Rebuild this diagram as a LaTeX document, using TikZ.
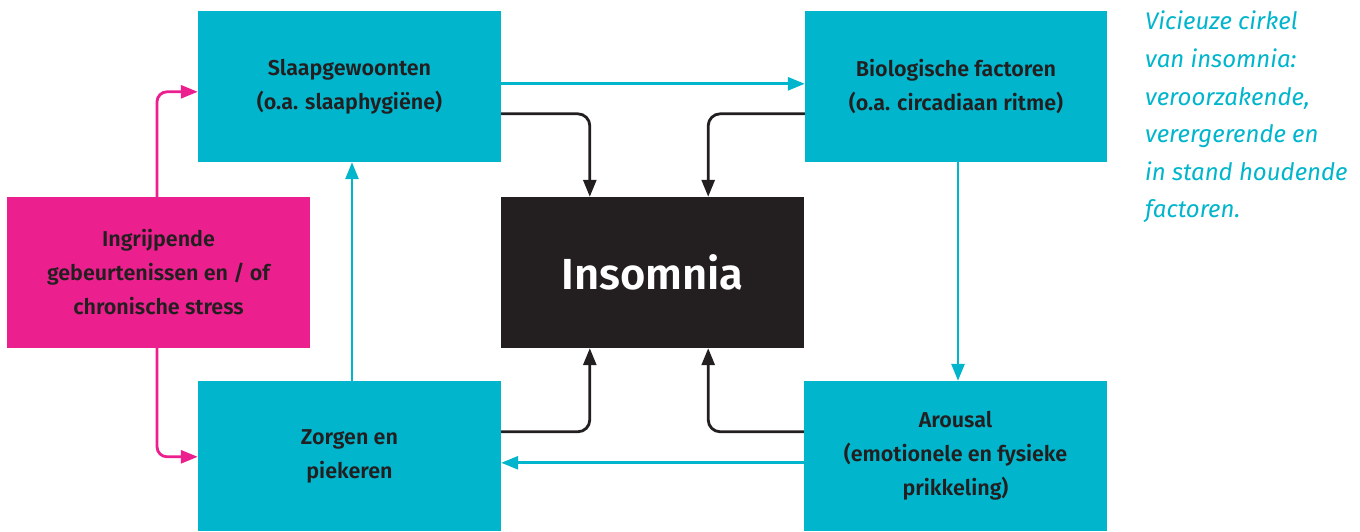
\documentclass[tikz,border=0pt]{standalone}
\usepackage{fontspec}
\setmainfont{Fira Sans}
\newfontfamily\semib{Fira Sans SemiBold}
\usetikzlibrary{arrows.meta,calc}
\definecolor{cyanbox}{HTML}{00B5CC}
\definecolor{pinkbox}{HTML}{EC1F8F}
\definecolor{darkbox}{HTML}{231F20}
\tikzset{
  box/.style={rectangle, inner sep=0pt, minimum width=303pt, minimum height=151pt, align=center,
    font=\semib\fontsize{21.5}{34}\selectfont, text=darkbox},
  cybox/.style={box, fill=cyanbox},
  pkbox/.style={box, fill=pinkbox},
  blkbox/.style={box, fill=darkbox, text=white, font=\semib\fontsize{43.5}{50}\selectfont},
  con/.style={line width=2.8pt, -{Triangle[length=17pt,width=13pt]}},
  cycon/.style={con, draw=cyanbox},
  pkcon/.style={con, draw=pinkbox, rounded corners=10pt},
  bkcon/.style={con, draw=darkbox, rounded corners=12pt},
  note/.style={align=left, inner sep=0pt, text=cyanbox, font=\itshape\fontsize{24}{37.6}\selectfont}
}
\begin{document}
\begin{tikzpicture}[x=1pt,y=-1pt]
\useasboundingbox (0,0) rectangle (1360,531);
\node[cybox] (slaap) at (349.5,86.5) {Slaapgewoonten\\(o.a. slaaphygiëne)};
\node[cybox, minimum width=302pt] (bio) at (956,86.5) {Biologische factoren\\(o.a. circadiaan ritme)};
\node[blkbox] (ins) at (652.5,272.5) {Insomnia};
\node[pkbox] (pink) at (158.5,272.5) {Ingrijpende\\gebeurtenissen en / of\\chronische stress};
\node[cybox, minimum height=150pt] (zorg) at (349.5,456) {Zorgen en\\piekeren};
\node[cybox, minimum height=150pt] (arou) at (955.5,456) {Arousal\\(emotionele en fysieke\\prikkeling)};
\node[note, anchor=north west] (txt) at (1145,11) {Vicieuze cirkel\\van insomnia:\\veroorzakende,\\verergerende en\\in stand houdende\\factoren.};
% cyan connectors
\draw[cycon] ($(slaap.north east)+(0,73)$) -- ($(bio.north west)+(0,73)$);
\draw[cycon] ($(bio.south)+(2,0)$) -- ($(arou.north)+(2.5,0)$);
\draw[cycon] ($(arou.north west)+(0,82)$) -- ($(zorg.north east)+(0,82)$);
\draw[cycon] ($(zorg.north)+(2.5,0)$) -- ($(slaap.south)+(2.5,0)$);
% black connectors
\draw[bkcon] ($(slaap.north east)+(0,103)$) -| ($(ins.north west)+(89,0)$);
\draw[bkcon] ($(bio.north west)+(0,103)$) -| ($(ins.north east)+(-96,0)$);
\draw[bkcon] ($(zorg.north east)+(0,51)$) -| ($(ins.south west)+(89,0)$);
\draw[bkcon] ($(arou.north west)+(0,51)$) -| ($(ins.south east)+(-96,0)$);
% pink connectors
\draw[pkcon] ($(pink.north)+(-1.5,0)$) |- ($(slaap.north west)+(0,81)$);
\draw[pkcon] ($(pink.south)+(-1.5,0)$) |- ($(zorg.north west)+(0,76)$);
\end{tikzpicture}
\end{document}
